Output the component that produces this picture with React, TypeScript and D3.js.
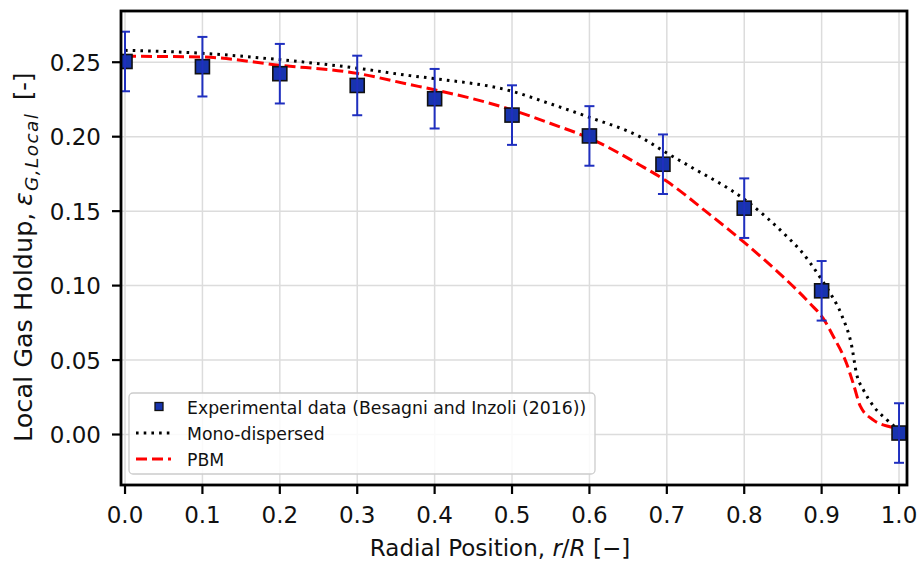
import React from "react";
import * as d3 from "d3";

const W = 921;
const H = 562;

const expR = [0, 0.1, 0.2, 0.3, 0.4, 0.5, 0.6, 0.695, 0.8, 0.9, 1.0];
const expVal = [0.2505, 0.247, 0.2423, 0.2344, 0.2255, 0.2145, 0.2005, 0.1815, 0.152, 0.0965, 0.001];
const expErr = [0.02, 0.02, 0.02, 0.02, 0.02, 0.02, 0.02, 0.02, 0.02, 0.02, 0.02];

const monoR = [0, 0.1, 0.2, 0.3, 0.368, 0.4, 0.5, 0.55, 0.6, 0.665, 0.7, 0.73, 0.8, 0.859, 0.872, 0.9, 0.911, 0.926, 0.939, 0.945, 0.954, 0.967, 0.984, 1.0];
const monoVal = [0.258, 0.256, 0.2517, 0.246, 0.241, 0.239, 0.2305, 0.222, 0.213, 0.2, 0.189, 0.18, 0.158, 0.131, 0.124, 0.104, 0.095, 0.08, 0.059, 0.041, 0.03, 0.019, 0.01, 0.003];

const pbmR = [0, 0.1, 0.2, 0.3, 0.368, 0.4, 0.5, 0.549, 0.6, 0.665, 0.7, 0.75, 0.8, 0.85, 0.885, 0.902, 0.915, 0.932, 0.941, 0.95, 0.967, 0.993, 1.0];
const pbmVal = [0.254, 0.2535, 0.248, 0.2425, 0.235, 0.2315, 0.218, 0.209, 0.199, 0.181, 0.17, 0.15, 0.129, 0.106, 0.088, 0.078, 0.066, 0.048, 0.034, 0.019, 0.0097, 0.0044, 0.003];

const xTicks = [0, 0.1, 0.2, 0.3, 0.4, 0.5, 0.6, 0.7, 0.8, 0.9, 1.0];
const yTicks = [0, 0.05, 0.1, 0.15, 0.2, 0.25];

const legendLabels = ["Experimental data (Besagni and Inzoli (2016))", "Mono-dispersed", "PBM"];

const L = 121, R = 907, T = 11, B = 485;
const FONT = "DejaVu Sans, sans-serif";

export default function App() {
  const x = d3.scaleLinear().domain([-0.0052, 1.0103]).range([L, R]);
  const y = d3.scaleLinear().domain([-0.0339, 0.2844]).range([B, T]);

  const line = d3.line<[number, number]>().x(d => x(d[0])).y(d => y(d[1])).curve(d3.curveMonotoneX);
  const monoPath = line(monoR.map((r, i) => [r, monoVal[i]] as [number, number])) || "";
  const pbmPath = line(pbmR.map((r, i) => [r, pbmVal[i]] as [number, number])) || "";

  const blue = "#1f2fbf";
  const fill = "#1834ae";

  return (
    <svg width={W} height={H} style={{ position: "absolute", left: 0, top: 0, background: "#fff" }} fontFamily={FONT}>
      <defs>
        <clipPath id="plot"><rect x={L} y={T} width={R - L} height={B - T} /></clipPath>
      </defs>
      {/* grid */}
      <g stroke="#dcdcdc" strokeWidth={1.5}>
        {xTicks.map(t => <line key={"gx" + t} x1={x(t)} x2={x(t)} y1={T} y2={B} />)}
        {yTicks.map(t => <line key={"gy" + t} x1={L} x2={R} y1={y(t)} y2={y(t)} />)}
      </g>
      <g clipPath="url(#plot)">
        <path d={pbmPath} fill="none" stroke="#ff0000" strokeWidth={3} strokeDasharray="11,5" />
        <path d={monoPath} fill="none" stroke="#000" strokeWidth={3} strokeDasharray="2.6,5.1" />
        {expR.map((r, i) => {
          const cx = x(r), cy = y(expVal[i]);
          const y1 = y(expVal[i] + expErr[i]), y2 = y(expVal[i] - expErr[i]);
          return (
            <g key={"e" + i}>
              <rect x={cx - 7} y={cy - 7} width={14} height={14} fill={fill} stroke="#111" strokeWidth={1.6} />
              <line x1={cx} x2={cx} y1={y1} y2={y2} stroke={blue} strokeWidth={2} />
              <line x1={cx - 5} x2={cx + 5} y1={y1} y2={y1} stroke={blue} strokeWidth={2} />
              <line x1={cx - 5} x2={cx + 5} y1={y2} y2={y2} stroke={blue} strokeWidth={2} />
            </g>
          );
        })}
      </g>
      {/* spines */}
      <rect x={L} y={T} width={R - L} height={B - T} fill="none" stroke="#000" strokeWidth={2.8} />
      {/* ticks */}
      <g stroke="#000" strokeWidth={2.2}>
        {xTicks.map(t => <line key={"tx" + t} x1={x(t)} x2={x(t)} y1={B} y2={B + 9} />)}
        {yTicks.map(t => <line key={"ty" + t} x1={L - 9} x2={L} y1={y(t)} y2={y(t)} />)}
      </g>
      <g fontSize={23} fill="#111">
        {xTicks.map(t => (
          <text key={"lx" + t} x={x(t)} y={522.5} textAnchor="middle">{d3.format(".1f")(t)}</text>
        ))}
        {yTicks.map(t => (
          <text key={"ly" + t} x={101} y={y(t) + 8.5} textAnchor="end">{d3.format(".2f")(t)}</text>
        ))}
      </g>
      {/* x label */}
      <text x={500} y={555.5} textAnchor="middle" fontSize={23} fill="#111">
        Radial Position, <tspan fontStyle="italic">r</tspan>/<tspan fontStyle="italic">R</tspan> [−]
      </text>
      {/* y label */}
      <g transform="translate(32,442) rotate(-90)" fill="#111" fontSize={25.5}>
        <text x={0} y={0}>Local Gas Holdup,</text>
        <text x={236} y={0} fontStyle="italic">ε</text>
        <text x={251} y={6} fontStyle="italic" fontSize={18.5} letterSpacing={1.4}>G,Local</text>
        <text x={342} y={0} fontSize={24}>[-]</text>
      </g>
      {/* legend */}
      <g>
        <rect x={129} y={393} width={466} height={81} rx={4} fill="#fff" fillOpacity={0.85} stroke="#cccccc" strokeWidth={1.3} />
        <rect x={155} y={402.5} width={8} height={8} fill={fill} stroke="#111" strokeWidth={1.3} />
        <line x1={136} x2={171} y1={433} y2={433} stroke="#000" strokeWidth={3} strokeDasharray="2.6,5.1" />
        <line x1={136} x2={171} y1={459} y2={459} stroke="#ff0000" strokeWidth={3} strokeDasharray="11,5" />
        <g fontSize={17.3} fill="#111">
          {legendLabels.map((s, i) => (
            <text key={s} x={187} y={414 + i * 26}>{s}</text>
          ))}
        </g>
      </g>
    </svg>
  );
}
